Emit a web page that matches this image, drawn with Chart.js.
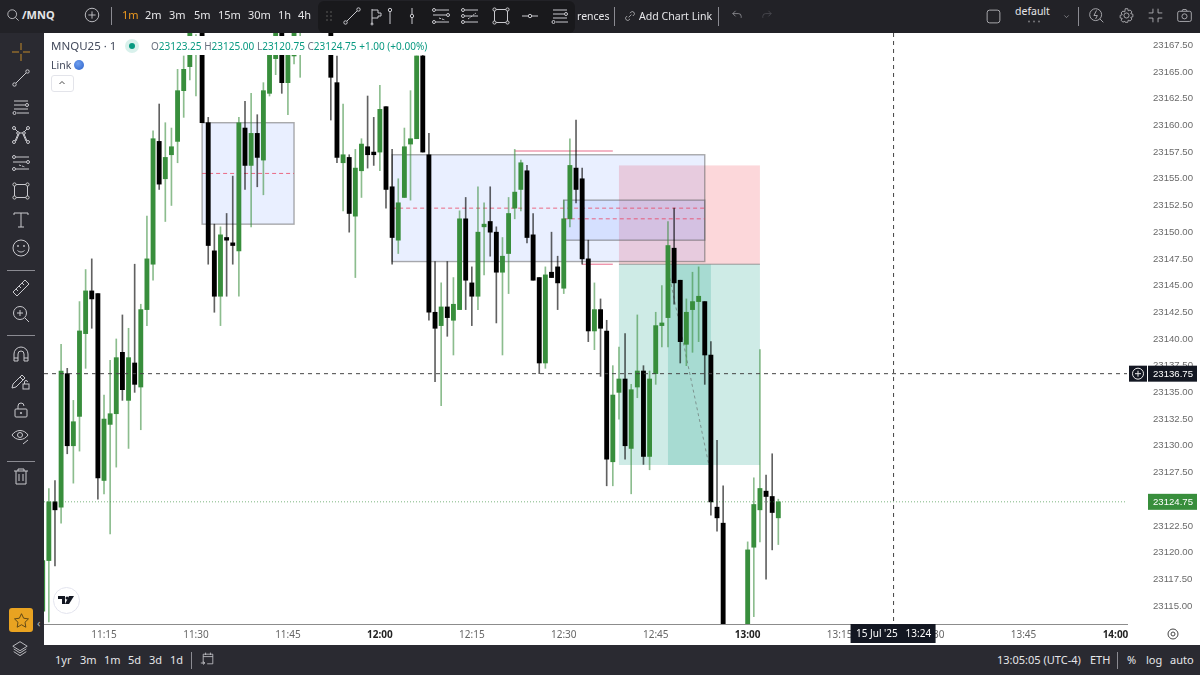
<!DOCTYPE html>
<html>
<head>
<meta charset="utf-8">
<title>MNQU25 1m</title>
<script src="https://cdn.jsdelivr.net/npm/chart.js@4"></script>
<style>
html,body{margin:0;padding:0;background:#fff;overflow:hidden}
#page{position:relative;width:1200px;height:675px;overflow:hidden;font-family:"Noto Sans",sans-serif}
#chart{position:absolute;left:44px;top:33px}
.bar{position:absolute;background:#2a2a31}
.t{position:absolute;white-space:nowrap;color:#e6e6e9;font-size:11.5px;line-height:14px}
.sep{position:absolute;width:1px;background:#8b8b92}
svg{position:absolute;overflow:visible}
</style>
</head>
<body>
<div id="page">
  <canvas id="chart" width="1156" height="612"></canvas>
  <div class="bar" style="left:0;top:0;width:1200px;height:33px;background:#222227"></div>
  <div class="bar" style="left:0;top:33px;width:44px;height:642px"></div>
  <div class="bar" style="left:0;top:645px;width:1200px;height:30px"></div>
  <div class="bar" style="left:318px;top:1px;width:257px;height:32px;background:#19191c;border-radius:6px"></div>
  <div class="bar" style="left:44px;top:36px;width:392px;height:19px;background:#fff"></div>
  <div id="ui"></div>
</div>

<script>
// DATA: one candle per minute, first one is 11:05
const firstMinute = 665;
const opens = [
  23114.5,23119.25,23124.75,23124.25,23136.75,23130,23132.75,23140.5,23144.5,23144.25,
  23126.75,23132,23133,23138.75,23134.25,23137.75,23135.5,23142.75,23147,23158.5,
  23155,23157.25,23158.5,23163.25,23165.5,23167,23172,23160.25,23148.25,23144,
  23149.5,23149,23148.25,23159.75,23156.25,23159.25,23156.75,23163,23166.25,23170,
  23164,23166.5,23167,null,null,null,null,23172,23164,23156.5,
  23157,23151.5,23155.75,23158,23157.5,23157.5,23161.75,23154.25,23149.25,23153.25,
  23158.25,23158.75,23166.5,23157.25,23142.5,23141.25,23143,23141.75,23142.75,23151.25,
  23145.25,23144,23150.5,23151,23150,23146.25,23148,23152.25,23154,23155.75,
  23149.75,23145.75,23137.75,23146.25,23146.75,23144.75,23151.25,23156,23155,23147.5,
  23140.75,23142.75,23140.75,23128.5,23135,23136.25,23129.75,23135.5,23137,23129,
  23136.75,23141.25,23142,23148.5,23145.5,23139.5,23142.75,23143.5,23143.5,23138.5,
  23124.25,23122.75,null,null,null,23112,23120.5,23124,23125.75,23125.25,23123.25
];
const closes = [
  23119.25,23124.75,23124,23137,23130,23132.25,23140.75,23144.5,23143.75,23127,
  23132.5,23133,23138.25,23135.25,23138.25,23135.75,23142.75,23147.5,23158.75,23154.5,
  23157,23158,23163.25,23165.25,23169.5,23168,23160.25,23148.75,23144,23149.75,
  23149.25,23148.75,23160.25,23156.25,23159.25,23157,23163.25,23167,23169.5,23164,
  23167,23170,23168,null,null,null,null,23164.5,23157,23157.25,
  23151.75,23156,23158.25,23157.25,23157.25,23161.5,23154,23149.5,23152.75,23158,
  23158.75,23166.5,23157.5,23142.5,23141,23143,23142,23143.25,23151.25,23145.5,
  23144,23150,23150.75,23150,23146.25,23147.75,23151.75,23153.75,23156.5,23149.5,
  23145.5,23137.75,23146,23145.75,23145.25,23151.25,23156.25,23154,23147.5,23140.75,
  23142.75,23141,23128.75,23134.75,23136.25,23130,23135.25,23137,23129,23136.25,
  23141.25,23141.5,23148.75,23145.25,23139.75,23142.5,23143.5,23144,23138.5,23124.75,
  23123.25,23112,null,null,null,23120.25,23124.5,23126,23125.25,23123.75,23124.75
];
const highs = [
  23119.25,23126,23126.75,23139.5,23137.25,23134.25,23143.5,23146.5,23147.5,23144.25,
  23134.75,23138,23140,23142.25,23141,23147,23143.25,23151.5,23159.5,23162,
  23160.25,23159.75,23165.25,23166.5,23170,23168.5,23172.25,23160.75,23150.75,23150.5,
  23151.75,23155.25,23160.75,23162.25,23163,23161,23164,23167.5,23170,23171,
  23167.5,23171,23170,null,null,null,null,23172.5,23166.5,23162,
  23157.25,23157.75,23158.75,23162.75,23160.75,23163.75,23161.75,23157.75,23155,23159.75,
  23163.25,23166.5,23166.75,23159.25,23147.25,23145.25,23147.25,23145.75,23152,23153.25,
  23146.75,23154.25,23152.75,23154.25,23150.5,23149.5,23153.25,23157.75,23156.75,23156.25,
  23151.75,23145.75,23146.75,23150,23147.75,23153,23158.75,23160.5,23156,23149.25,
  23145.25,23143.75,23141.75,23137.5,23139.25,23140.5,23135.75,23142.25,23137.5,23137,
  23142.5,23145,23151,23152.25,23145.5,23143.75,23146.25,23146.75,23143.5,23139.75,
  23130.5,23126.25,null,null,null,23121,23127,23139,23127.25,23129.25,23125
];
const lows = [
  23114.5,23113.5,23118.75,23122.75,23129.25,23126.5,23129.5,23137.25,23141,23125,
  23125.5,23121.75,23128,23134.25,23129.75,23135,23131.5,23141.25,23145.5,23154,
  23151,23152.5,23156.5,23160.75,23164.25,23162.75,23160.25,23147,23142.5,23141.25,
  23144,23147,23144,23154,23150.5,23154.25,23153.5,23162.75,23164.75,23163,
  23161,23165.75,23164.5,null,null,null,null,23160.5,23156.5,23152,
  23150,23145.75,23153.25,23156,23156.25,23155.75,23152.25,23147,23148,23153.25,
  23153,23158.75,23157.5,23141.75,23136,23133.75,23140.25,23138.5,23142.75,23142.75,
  23141.25,23142.75,23146,23147.75,23141.5,23138.5,23144.25,23151.25,23152,23149,
  23145.5,23136.75,23137.25,23145.75,23142.75,23144.25,23150.5,23152.75,23147,23139.75,
  23139,23136.5,23126.25,23126.25,23132.5,23128.75,23125.5,23134.5,23128.25,23127.75,
  23135.75,23139.25,23139.25,23143.25,23137.75,23137.5,23138.75,23139.75,23135.75,23123.5,
  23122,23111,null,null,null,23111.5,23114,23121,23117.5,23120.25,23120.75
];
const priceTicks = {min:23113.31, max:23168.65, step:2.5};
const timeTicks = {min:665.21, max:841.88, step:15};
const lastPrice = 23124.75;
const crossPrice = 23136.75;
const crossMinute = 803.8;
const crossDate = "15 Jul '25   13:24";

// DRAWINGS: [from minute, to minute, high price, low price]
const blueBoxes = [[691,706,23160.25,23150.75],[722,773,23157.25,23147.25],[750,773,23153,23149.25]];
const blueMids = [[691,706,23155.5],[722,773,23152.25],[750,773,23151.25]];
const pinkLines = [[742,758,23157.6],[753,758,23147]];
const stopZone = [759,782,23156.25,23147];
const targetZone = [759,782,23147,23128.2];
const heldZone = [767,774,23147,23128.2];
const pathLine = [767.3,23145.7,773.6,23128.4];

// CANDLES
let bodies=[],wicks=[],bodyColors=[],wickColors=[];
opens.forEach((o,i)=>{
  if(o===null) return;
  let up=closes[i]>=o;
  bodies.push({x:firstMinute+i,y:[o,closes[i]]});
  wicks.push({x:firstMinute+i,y:[lows[i],highs[i]]});
  bodyColors.push(up?"#388e3c":"#000000");
  wickColors.push(up?"rgba(56,142,60,.58)":"rgba(0,0,0,.62)");
});

function px(ch,m){return ch.scales.x.getPixelForValue(m)}
function py(ch,p){return ch.scales.y.getPixelForValue(p)}
function isHour(c){return !!c.tick && c.tick.value%60===0}
function zone(ch,z,fill){
  let c=ch.ctx;
  c.fillStyle=fill;
  c.fillRect(px(ch,z[0]),py(ch,z[2]),px(ch,z[1])-px(ch,z[0]),py(ch,z[3])-py(ch,z[2]));
}
function seg(ch,x1,y1,x2,y2,color,dash,w){
  let c=ch.ctx;
  c.save();
  c.strokeStyle=color;
  c.lineWidth=w||1;
  c.setLineDash(dash||[]);
  c.beginPath();
  c.moveTo(x1,y1);
  c.lineTo(x2,y2);
  c.stroke();
  c.restore();
}

// zones sit behind the candles
const drawingsPlugin={
  id:"drawings",
  beforeDatasetsDraw(ch){
    let c=ch.ctx;
    zone(ch,stopZone,"rgba(242,54,69,.2)");
    zone(ch,targetZone,"rgba(8,153,129,.2)");
    zone(ch,heldZone,"rgba(8,153,129,.2)");
    blueBoxes.forEach(b=>{
      zone(ch,b,"rgba(41,98,255,.1)");
      c.strokeStyle="rgba(90,90,90,.5)";
      c.lineWidth=1.4;
      c.strokeRect(px(ch,b[0]),py(ch,b[2]),px(ch,b[1])-px(ch,b[0]),py(ch,b[3])-py(ch,b[2]));
    });
    blueMids.forEach(m=>seg(ch,px(ch,m[0]),py(ch,m[2]),px(ch,m[1]),py(ch,m[2]),"rgba(235,60,90,.75)",[4,3]));
    pinkLines.forEach(l=>seg(ch,px(ch,l[0]),py(ch,l[2]),px(ch,l[1]),py(ch,l[2]),"rgba(225,70,110,.8)",[],1));
    seg(ch,px(ch,stopZone[0]),py(ch,stopZone[3]),px(ch,stopZone[1]),py(ch,stopZone[3]),"rgba(120,120,120,.7)",[],1);
    seg(ch,px(ch,pathLine[0]),py(ch,pathLine[1]),px(ch,pathLine[2]),py(ch,pathLine[3]),"rgba(90,90,90,.55)",[3,3],1);
  },
  afterDraw(ch){
    let c=ch.ctx,a=ch.chartArea;
    let ly=py(ch,lastPrice),cy=py(ch,crossPrice),cx=px(ch,crossMinute);
    seg(ch,a.left,ly,a.right,ly,"rgba(56,142,60,.65)",[1,2]);
    seg(ch,a.left,cy,a.right,cy,"#444",[4,4]);
    seg(ch,cx,a.top,cx,a.bottom,"#444",[4,4]);

    c.textBaseline="middle";
    c.textAlign="left";
    c.font="9.6px 'Liberation Sans'";
    // last price tag
    c.fillStyle="#388e3c";
    c.fillRect(a.right+21,ly-8,49,16);
    c.fillStyle="#fff";
    c.fillText(lastPrice.toFixed(2),a.right+26,ly+.5);
    // crosshair price tag
    c.fillStyle="#131722";
    c.fillRect(a.right+2,cy-8,18,16);
    c.fillRect(a.right+21,cy-8,49,16);
    c.fillStyle="#fff";
    c.fillText(crossPrice.toFixed(2),a.right+26,cy+.5);
    c.strokeStyle="#e8e8e8";
    c.lineWidth=1;
    c.beginPath();
    c.arc(a.right+11,cy,5.5,0,Math.PI*2);
    c.moveTo(a.right+8,cy);c.lineTo(a.right+14,cy);
    c.moveTo(a.right+11,cy-3);c.lineTo(a.right+11,cy+3);
    c.stroke();
    // crosshair date tag
    c.fillStyle="#131722";
    c.fillRect(cx-43,a.bottom,85,19);
    c.fillStyle="#fff";
    c.textAlign="center";
    c.font="10px 'Noto Sans'";
    c.fillText(crossDate,cx,a.bottom+10);
    // axis settings button
    c.strokeStyle="#444";
    c.beginPath();
    c.arc(a.right+46,a.bottom+10,5,0,Math.PI*2);
    c.moveTo(a.right+48,a.bottom+10);
    c.arc(a.right+46,a.bottom+10,2,0,Math.PI*2);
    c.stroke();
  }
};

new Chart(document.getElementById("chart"),{
  type:"bar",
  data:{datasets:[
    {data:bodies,backgroundColor:bodyColors,barThickness:4.2,grouped:false},
    {data:wicks,backgroundColor:wickColors,barThickness:1,grouped:false}
  ]},
  options:{
    responsive:false,
    animation:false,
    devicePixelRatio:1,
    layout:{padding:0},
    plugins:{legend:{display:false},tooltip:{enabled:false}},
    scales:{
      x:{
        type:"linear",
        min:timeTicks.min,
        max:timeTicks.max,
        offset:false,
        afterFit(s){s.height=21;s.paddingLeft=0;s.paddingRight=0},
        grid:{display:false,drawTicks:false},
        border:{display:true,color:"#8c8c8c",width:1},
        ticks:{
          stepSize:timeTicks.step,
          includeBounds:false,
          autoSkip:false,
          maxRotation:0,
          padding:5,
          color:c=>isHour(c)?"#222":"#666",
          font:c=>({family:"'Noto Sans'",size:10,weight:isHour(c)?"bold":"normal"}),
          callback(v){
            let h=Math.floor(v/60),m=v%60;
            return h+":"+(m<10?"0":"")+m;
          }
        }
      },
      y:{
        position:"right",
        min:priceTicks.min,
        max:priceTicks.max,
        afterFit(s){s.width=73;s.paddingTop=0;s.paddingBottom=0},
        grid:{display:false,drawTicks:false},
        border:{display:false},
        ticks:{
          stepSize:priceTicks.step,
          includeBounds:false,
          padding:26,
          color:"#6a6a6a",
          font:{family:"'Liberation Sans'",size:9.6},
          callback(v){return v.toFixed(2)}
        }
      }
    }
  },
  plugins:[drawingsPlugin]
});

// TOOLBARS
const ui=document.getElementById("ui");
function text(x,y,s,css){
  ui.insertAdjacentHTML("beforeend",`<div class="t" style="left:${x}px;top:${y-7}px;${css||""}">${s}</div>`);
}
function sep(x,y,h){
  ui.insertAdjacentHTML("beforeend",`<div class="sep" style="left:${x}px;top:${y}px;height:${h}px"></div>`);
}
function icon(cx,cy,inner,color,size){
  let s=size||20;
  ui.insertAdjacentHTML("beforeend",`<svg style="left:${cx-s/2}px;top:${cy-s/2}px" width="${s}" height="${s}" viewBox="0 0 20 20" fill="none" stroke="${color||"#c9c9ce"}" stroke-width="1">${inner}</svg>`);
}
const ic={
  search:'<circle cx="9" cy="9" r="5.5"/><path d="M13 13l4 4"/>',
  plus:'<circle cx="10" cy="10" r="7.5"/><path d="M10 6v8M6 10h8"/>',
  line:'<circle cx="3.5" cy="16.5" r="1.7"/><circle cx="16.5" cy="3.5" r="1.7"/><path d="M5 15L15 5"/>',
  flag:'<path d="M5 18V3M5 4h6v3h3v3h-3v2H5"/><circle cx="5" cy="18" r="1"/>',
  pin:'<circle cx="10" cy="4" r="1.7"/><path d="M10 6v12"/>',
  pinMid:'<circle cx="10" cy="10" r="1.7"/><path d="M10 2v6M10 12v6"/>',
  fork:'<circle cx="3" cy="4" r="1.5"/><circle cx="17" cy="9" r="1.5"/><circle cx="3" cy="16" r="1.5"/><path d="M5 4h13M2 9h13M5 16h13"/><path d="M8 12l6 2" stroke-dasharray="2 1"/>',
  fork2:'<circle cx="3" cy="4" r="1.5"/><circle cx="3" cy="10" r="1.5"/><circle cx="3" cy="16" r="1.5"/><path d="M5 4h13M5 10h13M5 16h13"/><path d="M8 13l8-6" stroke-dasharray="2 1"/>',
  rect:'<rect x="3.5" y="3.5" width="13" height="13"/><circle cx="3.5" cy="3.5" r="1.6" fill="#222"/><circle cx="16.5" cy="3.5" r="1.6" fill="#222"/><circle cx="3.5" cy="16.5" r="1.6" fill="#222"/><circle cx="16.5" cy="16.5" r="1.6" fill="#222"/>',
  hline:'<circle cx="10" cy="10" r="1.7"/><path d="M2 10h6M12 10h6"/>',
  lines:'<path d="M3 4h14M3 8h11M3 12h14M6 16h12"/><circle cx="16" cy="8" r="1.5"/><circle cx="3.5" cy="16" r="1.5"/>',
  star:'<path d="M10 2l2.5 5.3 5.7.8-4.1 4 1 5.8L10 15l-5.1 2.9 1-5.8-4.1-4 5.7-.8z"/>',
  pattern:'<circle cx="3" cy="3" r="1.5"/><circle cx="17" cy="3" r="1.5"/><circle cx="3" cy="17" r="1.5"/><circle cx="17" cy="17" r="1.5"/><circle cx="7" cy="8" r="1.3"/><circle cx="13" cy="8" r="1.3"/><path d="M4 4l3 3M16 4l-3 3M8 8h4M7 9L4 16M13 9l3 7M5 16l3-7M15 16l-3-7"/>',
  cross:'<path d="M10 1v7M10 12v7M1 10h7M12 10h7"/>',
  tee:'<path d="M3 5V3h14v2M10 3v14M7 17h6"/>',
  smile:'<circle cx="10" cy="10" r="8"/><circle cx="7" cy="8" r=".6"/><circle cx="13" cy="8" r=".6"/><path d="M6.5 12.5c2 2 5 2 7 0"/>',
  ruler:'<path d="M2 14L14 2l4 4L6 18zM5 11l2 2M8 8l2 2M11 5l2 2"/>',
  zoom:'<circle cx="9" cy="9" r="6.5"/><path d="M9 6v6M6 9h6M14 14l4 4"/>',
  magnet:'<path d="M3 17v-7a7 7 0 0 1 14 0v7h-4v-7a3 3 0 0 0-6 0v7zM3 14h4M13 14h4"/>',
  pencil:'<path d="M2 13L11 4l3 3-9 9-4 1zM9 6l3 3"/><rect x="12" y="13" width="6" height="5"/><path d="M13.5 13v-2a1.5 1.5 0 0 1 3 0"/>',
  lock:'<rect x="4" y="9" width="12" height="8" rx="1"/><path d="M7 9V6a3 3 0 0 1 6 0"/><circle cx="10" cy="13" r=".7"/>',
  eye:'<path d="M1 9c4-6 12-6 16 0-4 6-12 6-16 0z"/><circle cx="9" cy="9" r="2.5"/><path d="M12 18l5-4"/>',
  trash:'<path d="M3 5h14M7 5V3h6v2M5 5v13h10V5M8 8v7M12 8v7"/>',
  layers:'<path d="M10 3l8 5-8 5-8-5zM3 11l7 4.5 7-4.5M3 14l7 4.5 7-4.5"/>',
  cal:'<path d="M4 16V4h12v12h-7M4 7h12M7 2v3M13 2v3M1 15h5M4 13l2 2-2 2"/>',
  link:'<path d="M8 12l4-4M6 10l-2 2a3 3 0 0 0 4 4l2-2M10 6l2-2a3 3 0 0 1 4 4l-2 2"/>',
  undo:'<path d="M8 4L4 8l4 4M4 8h8a4 4 0 0 1 4 4v2"/>',
  redo:'<path d="M12 4l4 4-4 4M16 8H8a4 4 0 0 0-4 4v2"/>',
  box:'<rect x="2.5" y="2.5" width="15" height="15" rx="3"/>',
  chev:'<path d="M6 8l4 4 4-4"/>',
  bolt:'<circle cx="9" cy="9" r="7"/><path d="M14 14l4 4M10 4L7 10h4l-2 4"/>',
  gear:'<circle cx="10" cy="10" r="3"/><path d="M8.5 2h3l.5 2.5 2.3-1 2 2.2-1.3 2.1 2.5.7v3l-2.5.7 1.3 2.1-2 2.2-2.3-1-.5 2.5h-3L8 16.800l-2.300 1-2-2.200L5 13.500 2.500 12.800v-3L5 9.100 3.700 7 5.700 4.800l2.300 1z"/>',
  full:'<path d="M7 2v5H2M13 2v5h5M7 18v-5H2M13 18v-5h5"/>',
  cam:'<rect x="2" y="5" width="16" height="12" rx="2"/><path d="M7 5l1-2h4l1 2"/><circle cx="10" cy="11" r="3"/>'
};

// top bar
icon(13,15,ic.search,"#d5d5d9",16);
text(22,15,"/MNQ","font-weight:700;font-size:11px");
icon(92,15,ic.plus,"#c9c9ce",18);
sep(111,7,18);
const ranges=[["1m",122,"#ee9a1f"],["2m",145],["3m",169],["5m",194],["15m",218],["30m",248],["1h",278],["4h",298]];
ranges.forEach(r=>text(r[1],15,r[0],"font-size:11px;color:"+(r[2]||"#e6e6e9")));
ui.insertAdjacentHTML("beforeend",'<svg style="left:326px;top:11px" width="7" height="10" fill="#444"><circle cx="1" cy="1" r="1"/><circle cx="5" cy="1" r="1"/><circle cx="1" cy="5" r="1"/><circle cx="5" cy="5" r="1"/><circle cx="1" cy="9" r="1"/><circle cx="5" cy="9" r="1"/></svg>');
[[352,ic.line],[377,ic.flag],[390,ic.pin],[412,ic.pinMid],[441,ic.fork],[470,ic.fork2],[501,ic.rect],[530,ic.hline],[560,ic.lines]].forEach(i=>icon(i[0],16,i[1],"#c9c9ce"));
text(577,16,"rences","font-size:10.5px");
sep(614,7,19);
icon(630,16,ic.link,"#d5d5d9",14);
text(639,16,"Add Chart Link","font-size:10.6px");
sep(718,7,19);
icon(737,15,ic.undo,"#a9a9ae",14);
icon(767,15,ic.redo,"#55555a",14);
icon(993,16,ic.box,"#bdbdc2",17);
text(1015,11,"default","font-size:10.5px");
ui.insertAdjacentHTML("beforeend",'<svg style="left:1027px;top:20px" width="14" height="3" fill="#77777c"><circle cx="2" cy="1.500" r="1"/><circle cx="7" cy="1.500" r="1"/><circle cx="12" cy="1.500" r="1"/></svg>');
icon(1066,16,ic.chev,"#bdbdc2",11);
sep(1078,7,19);
[[1096,ic.bolt],[1126,ic.gear],[1155,ic.full],[1184,ic.cam]].forEach(i=>icon(i[0],15,i[1],"#b9b9be",17));

// left bar
icon(21,52,ic.cross,"#c0882a",20);
[[78,ic.line],[107,ic.lines],[135,ic.pattern],[163,ic.fork],[191,ic.rect],[220,ic.tee],[248,ic.smile],[288,ic.ruler],[314,ic.zoom],[354,ic.magnet],[381,ic.pencil],[410,ic.lock],[436,ic.eye],[476,ic.trash]].forEach(i=>icon(21,i[0],i[1],"#c9c9ce",20));
[270,335,461].forEach(y=>ui.insertAdjacentHTML("beforeend",`<div class="sep" style="left:7px;top:${y}px;width:28px;height:1px"></div>`));
ui.insertAdjacentHTML("beforeend",'<div class="bar" style="left:9px;top:608px;width:24px;height:24px;background:#e9a321;border-radius:3px"></div>');
icon(21,620,ic.star,"#4a3a14",17);
text(37,623,"‹","color:#bbb;font-size:11px");
icon(20,648,ic.layers,"#c9c9ce",18);

// bottom bar
[["1yr",55],["3m",80],["1m",104],["5d",128],["3d",149],["1d",170]].forEach(r=>text(r[1],660,r[0],"font-size:11px"));
sep(191,652,17);
icon(208,659,ic.cal,"#c9c9ce",16);
text(997,660,"13:05:05 (UTC-4)","font-size:11px");
text(1090,660,"ETH","font-size:11px");
sep(1117,652,17);
text(1127,660,"%","font-size:11px");
text(1146,660,"log","font-size:11px");
text(1170,660,"auto","font-size:11px");

// legend on the chart
text(51,46,"MNQU25 · 1","color:#434a5c;font-size:11.5px");
ui.insertAdjacentHTML("beforeend",'<div style="position:absolute;left:125px;top:39px;width:14px;height:14px;border-radius:50%;background:#d9f1ec"></div><div style="position:absolute;left:129px;top:43px;width:6px;height:6px;border-radius:50%;background:#089981"></div>');
const g='color:#089981',n='color:#6b7280';
text(151,46,`<span style="${n}">O</span><span style="${g}">23123.25</span> <span style="${n}">H</span><span style="${g}">23125.00</span> <span style="${n}">L</span><span style="${g}">23120.75</span> <span style="${n}">C</span><span style="${g}">23124.75</span> <span style="${g}">+1.00 (+0.00%)</span>`,"font-size:10px");
text(51,65,"Link","color:#434a5c;font-size:10.5px");
ui.insertAdjacentHTML("beforeend",'<div style="position:absolute;left:74px;top:60px;width:10px;height:10px;border-radius:50%;background:radial-gradient(circle at 40% 35%,#6f9ff0,#2c62c9)"></div>');
ui.insertAdjacentHTML("beforeend",'<div style="position:absolute;left:51px;top:75px;width:21px;height:15px;border:1px solid #e3e4ea;border-radius:3px;background:#fff"></div>');
icon(62,83,'<path d="M5 12l5-5 5 5" stroke-width="1.800"/>',"#333",10);
// logo badge
ui.insertAdjacentHTML("beforeend",'<div style="position:absolute;left:53px;top:587px;width:25px;height:25px;border:1px solid #e3e4ee;border-radius:50%;background:#fff"></div>');
ui.insertAdjacentHTML("beforeend",'<svg style="left:58px;top:596px" width="16" height="9" fill="#131722"><path d="M0 0h7v8H4V3H0zM11 0h5l-5 8H7z"/><circle cx="9" cy="2" r="1.500"/></svg>');
</script>
</body>
</html>
